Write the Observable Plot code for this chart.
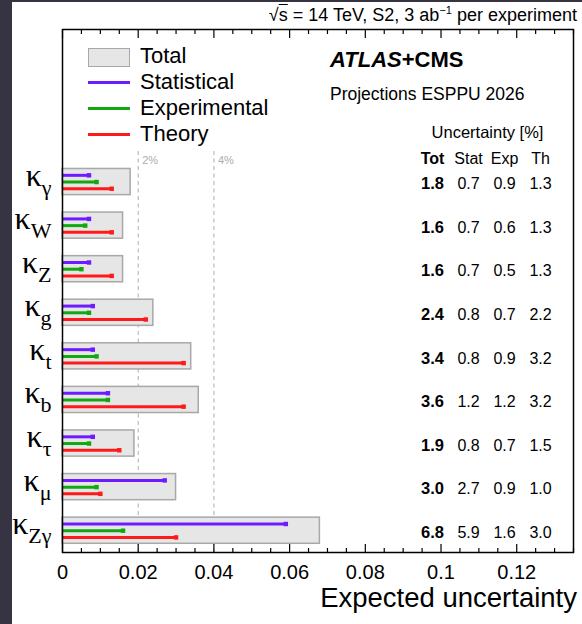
<!DOCTYPE html>
<html><head><meta charset="utf-8">
<script src="https://cdn.jsdelivr.net/npm/d3@7"></script>
<script src="https://cdn.jsdelivr.net/npm/@observablehq/plot@0.6"></script>
<style>
html,body{margin:0;padding:0;background:#363343;width:582px;height:624px;overflow:hidden}
#wrap{position:absolute;left:12px;top:2px;width:570px;height:622px;background:#fff;font-family:"Liberation Sans",Arial,sans-serif;color:#000}
.lbl{position:absolute;white-space:nowrap;line-height:1}
.sw{position:absolute}
</style></head><body><div id="wrap"></div>
<script>
// ---- data ----
const couplings = ["γ","W","Z","g","t","b","τ","μ","Zγ"];
const totalUnc = [1.8,1.6,1.6,2.4,3.4,3.6,1.9,3.0,6.8];   // %
const statUnc  = [0.7,0.7,0.7,0.8,0.8,1.2,0.8,2.7,5.9];   // %
const expUnc   = [0.9,0.6,0.5,0.7,0.9,1.2,0.7,0.9,1.6];   // %
const thUnc    = [1.3,1.3,1.3,2.2,3.2,3.2,1.5,1.0,3.0];   // %
const xTickValues = [0,0.02,0.04,0.06,0.08,0.1,0.12];
const xTickLabels = ["0","0.02","0.04","0.06","0.08","0.1","0.12"];
const guideValues = [0.02,0.04];
const guideLabels = ["2%","4%"];
const seriesNames = ["Statistical","Experimental","Theory"];
const seriesColors = ["#6e1cff","#12a812","#ff1a1a"];
const columnHeaders = ["Tot","Stat","Exp","Th"];

// ---- tables built from the arrays ----
const rows = couplings.map((c,i)=>({
  i, label: "κ_"+c,
  tot: totalUnc[i]/100, stat: statUnc[i]/100, exp: expUnc[i]/100, th: thUnc[i]/100,
  txt: [totalUnc[i],statUnc[i],expUnc[i],thUnc[i]].map(v=>v.toFixed(1))
}));
const seriesKeys = ["stat","exp","th"];
const seriesOffsets = [-0.154, 0, 0.154];
const minorTicks = d3.range(0,28).map(k=>k*0.005).filter((v,k)=>k%4!==0);

const W=570,H=622;
const colDx = [-141,-105,-69,-33];

const marks = [
  Plot.ruleX(guideValues, {x:d=>d, insetTop:122, stroke:"#acacac", strokeWidth:1, strokeDasharray:"4,3.5"}),
  Plot.text(guideValues, {x:d=>d, text:(d,i)=>guideLabels[i], frameAnchor:"top", lineAnchor:"middle", dy:131, dx:4, textAnchor:"start", fill:"#acacac", fontSize:11}),
  Plot.rect(rows, {x1:0, x2:"tot", y1:d=>d.i-0.3, y2:d=>d.i+0.3, fill:"#e6e6e6", stroke:"#a8a8a8", strokeWidth:1.5})
];
seriesKeys.forEach((k,s)=>{
  marks.push(Plot.ruleY(rows, {y:d=>d.i+seriesOffsets[s], x1:0, x2:k, stroke:seriesColors[s], strokeWidth:3}));
  marks.push(Plot.dot(rows, {x:k, y:d=>d.i+seriesOffsets[s], symbol:"square", r:2.5, fill:seriesColors[s]}));
});
marks.push(
  Plot.frame({stroke:"#000", strokeWidth:1.5}),
  Plot.axisX(xTickValues, {anchor:"bottom", tickSize:8, dy:-8, tickFormat:()=>"", label:null, strokeWidth:1.2}),
  Plot.axisX(minorTicks, {anchor:"bottom", tickSize:4, dy:-4, tickFormat:()=>"", label:null, strokeWidth:1.2}),
  Plot.axisX(xTickValues, {anchor:"top", tickSize:8, dy:8, tickFormat:()=>"", label:null, strokeWidth:1.2}),
  Plot.axisX(minorTicks, {anchor:"top", tickSize:4, dy:4, tickFormat:()=>"", label:null, strokeWidth:1.2}),
  Plot.text(xTickValues, {x:d=>d, text:(d,i)=>xTickLabels[i], frameAnchor:"bottom", lineAnchor:"top", dy:12, fontSize:20}),
  Plot.text(rows, {y:"i", text:"label", frameAnchor:"left", lineAnchor:"bottom", dx:-11, dy:3.5, textAnchor:"end", fontSize:32, fontFamily:"'Liberation Serif','Times New Roman',serif"}),
  Plot.text(["Uncertainty [%]"], {text:d=>d, frameAnchor:"top-right", lineAnchor:"middle", textAnchor:"middle", dx:-86, dy:103, fontSize:16.5})
);
columnHeaders.forEach((h,c)=>{
  marks.push(Plot.text([h], {text:d=>d, frameAnchor:"top-right", lineAnchor:"middle", textAnchor:"middle", dx:colDx[c], dy:129, fontSize:16, fontWeight:c===0?"bold":"normal"}));
  marks.push(Plot.text(rows, {y:"i", text:d=>d.txt[c], frameAnchor:"right", lineAnchor:"middle", textAnchor:"middle", dx:colDx[c], dy:2, fontSize:c===0?16.5:16, fontWeight:c===0?"bold":"normal"}));
});

const plot = Plot.plot({
  width:W, height:H, marginLeft:50, marginRight:9, marginTop:27, marginBottom:72,
  style:{fontFamily:"'Liberation Sans',Arial,sans-serif", background:"transparent", overflow:"visible", color:"#000"},
  x:{domain:[0,0.135]},
  y:{domain:[8.5,-3.5], axis:null},
  marks
});

// subscripts on the kappa labels
const ns="http://www.w3.org/2000/svg";
plot.querySelectorAll("text").forEach(t=>{
  const s=t.textContent;
  if (s.startsWith("κ_")) {
    const sub=s.slice(2);
    t.textContent="";
    const a=document.createElementNS(ns,"tspan"); a.textContent="κ";
    const b=document.createElementNS(ns,"tspan"); b.textContent=sub;
    b.setAttribute("font-size","22"); b.setAttribute("dy","9");
    t.append(a,b);
  }
});

const wrap=document.getElementById("wrap");
plot.style.position="absolute"; plot.style.left="0"; plot.style.top="0";
wrap.appendChild(plot);

function place(html, x, yc, fs, align, extra){
  const d=document.createElement("div");
  d.className="lbl"; d.innerHTML=html;
  d.style.fontSize=fs+"px";
  d.style.top=(yc-2-0.49*fs)+"px";
  if (align==="end") d.style.right=(582-x)+"px"; else d.style.left=(x-12)+"px";
  if (extra) Object.assign(d.style, extra);
  wrap.appendChild(d);
}
place('√<span style="text-decoration:overline">s</span> = 14 TeV, S2, 3 ab<sup style="font-size:11px;vertical-align:7px;line-height:0">−1</sup> per experiment', 577, 14.5, 18, "end");
place('<i>ATLAS</i>+CMS', 330, 60, 22, "start", {fontWeight:"bold"});
place('Projections ESPPU 2026', 330, 95, 17.5, "start");
place('Expected uncertainty', 577, 597, 27.5, "end");

// legend
const sw=document.createElement("div"); sw.className="sw";
Object.assign(sw.style,{left:"76px",top:"46px",width:"40px",height:"17px",background:"#e6e6e6",border:"1.5px solid #a8a8a8"});
wrap.appendChild(sw);
place("Total", 140, 56, 22, "start");
seriesNames.forEach((n,s)=>{
  const yc=82+26*s;
  const l=document.createElement("div"); l.className="sw";
  Object.assign(l.style,{left:"76px",top:(yc-2-1.5)+"px",width:"42px",height:"3px",background:seriesColors[s]});
  wrap.appendChild(l);
  place(n, 140, yc, 22, "start");
});
</script></body></html>
